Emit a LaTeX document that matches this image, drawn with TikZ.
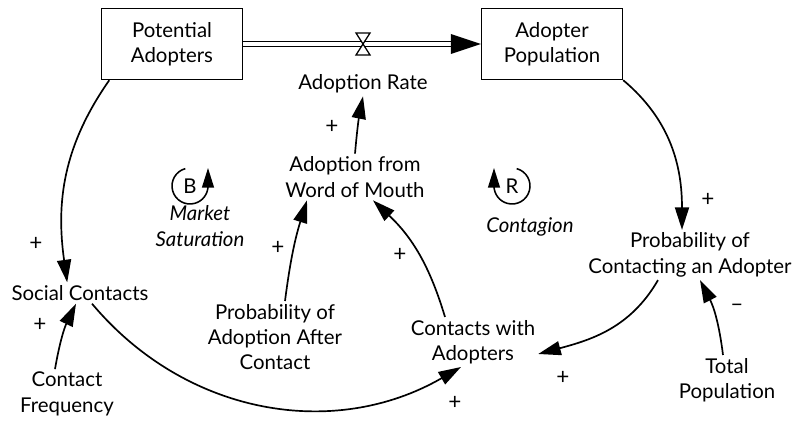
\documentclass[tikz,border=0pt]{standalone}
\usepackage{fontspec}
\setmainfont{Lato}
\usetikzlibrary{arrows.meta}

\tikzset{
  stock/.style={draw, line width=1pt, minimum width=3.525cm, minimum height=1.775cm},
  link/.style={line width=1.2pt, -{Triangle[length=16pt,width=10pt]}},
  loopmark/.style={line width=1.1pt, -{Triangle[length=14pt,width=8.5pt]}},
  sign/.style={font=\fontsize{16}{18}\selectfont}
}

\begin{document}
\begin{tikzpicture}[x=0.025cm, y=0.025cm,
    every node/.style={align=center, inner sep=2pt, font=\fontsize{14.5}{18}\selectfont}]
  \useasboundingbox (0,0) rectangle (795,-425);
  % stocks and the flow between them
  \node[stock] (pa) at (172,-44) {Potential\\Adopters};
  \node[stock] (ap) at (552,-44) {Adopter\\Population};
  \node (rate) at (363,-84) {Adoption Rate};
  \coordinate (valve) at (363,-44);
  \draw[line width=0.9pt, double distance=2.5pt] (pa.east) -- ([xshift=-0.6cm]ap.west);
  \fill (ap.west) -- ++(-30,10) -- ++(0,-20) -- cycle;
  \draw[line width=0.9pt, fill=white] (valve) -- ++(-7,11) -- ++(14,0) -- cycle
                                      (valve) -- ++(-7,-11) -- ++(14,0) -- cycle;
  % auxiliaries
  \node (wom)  at (355,-177) {Adoption from\\Word of Mouth};
  \node (sc)   at (80,-293)  {Social Contacts};
  \node (cf)   at (67,-394)  {Contact\\Frequency};
  \node (paac) at (275,-337) {Probability of\\Adoption After\\Contact};
  \node (cwa)  at (473,-342) {Contacts with\\Adopters};
  \node (pca)  at (690,-255) {Probability of\\Contacting an Adopter};
  \node (tp)   at (727,-380) {Total\\Population};
  % loop identifiers
  \node (bl) at (190,-186) {B};
  \node[font=\fontsize{14.5}{18}\selectfont\itshape] (ms) at (200,-226) {Market\\Saturation};
  \draw[loopmark] (bl.center) ++(105:18) arc[start angle=105, end angle=360, radius=18] -- ++(0,18);
  \node (rl) at (512,-186) {R};
  \node[font=\fontsize{14.5}{18}\selectfont\itshape] (cg) at (530,-227) {Contagion};
  \draw[loopmark] (rl.center) ++(75:18) arc[start angle=75, end angle=-180, radius=18] -- ++(0,18);
  % causal links
  \draw[link] (pa.-150) to[out=-125, in=98] ([xshift=-0.32cm]sc.north);
  \draw[link] (ap.south east) to[out=-40, in=90] ([xshift=-0.2cm]pca.north);
  \draw[link] (wom.north) to[bend left=3] (rate.south);
  \draw[link] ([xshift=-0.7cm]cwa.north) to[bend right=15] ([xshift=0.45cm]wom.south);
  \draw[link] ([xshift=0.25cm]paac.north) to[bend left=5] ([xshift=-1.2cm]wom.south);
  \draw[link] ([xshift=-0.3cm]cf.north) to[bend left=8] ([xshift=-0.1cm]sc.south);
  \draw[link] ([xshift=0.3cm]sc.south) to[out=-50, in=-150] ([xshift=-0.3cm]cwa.south);
  \draw[link] ([xshift=-0.8cm]pca.south) to[out=-120, in=15] ([yshift=-0.3cm]cwa.east);
  \draw[link] ([xshift=-0.1cm]tp.north) to[bend right=10] ([xshift=0.25cm]pca.south);
  % polarities
  \node[sign] (s1) at (332,-127) {+};
  \node[sign] (s2) at (36,-244)  {+};
  \node[sign] (s3) at (40,-325)  {+};
  \node[sign] (s4) at (278,-248) {+};
  \node[sign] (s5) at (400,-255) {+};
  \node[sign] (s6) at (455,-403) {+};
  \node[sign] (s7) at (708,-200) {+};
  \node[sign] (s8) at (563,-378) {+};
  \node[sign] (s9) at (737,-308) {--};
\end{tikzpicture}
\end{document}
